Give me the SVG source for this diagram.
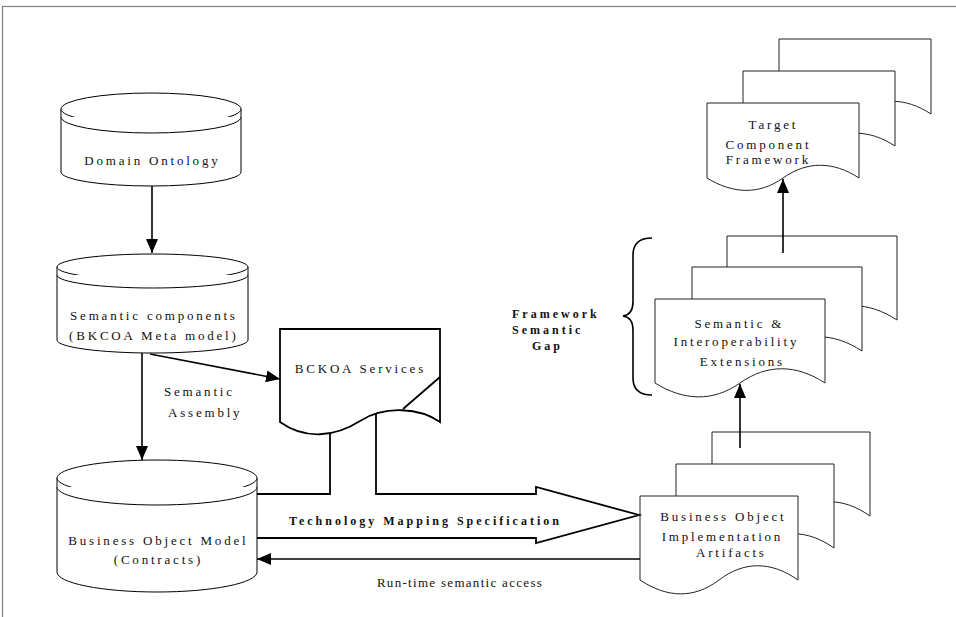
<svg xmlns="http://www.w3.org/2000/svg" width="956" height="617" viewBox="0 0 956 617">
<defs>
<marker id="ah" viewBox="0 0 14 12" refX="14" refY="6" markerWidth="14" markerHeight="12" markerUnits="userSpaceOnUse" orient="auto">
<path d="M0,0 L14,6 L0,12 z" fill="#000"/>
</marker>
</defs>
<style>
.frame{fill:none;stroke:#808080;stroke-width:1.2}
.cyl{fill:#fff;stroke:#000;stroke-width:1}
.doc{fill:#fff;stroke:#222;stroke-width:1}
.thick{fill:none;stroke:#000;stroke-width:1.8}
.bck{fill:#fff;stroke:#000;stroke-width:1.8}
.conn{fill:none;stroke:#000;stroke-width:1.6}
.lbl{font-family:"Liberation Serif","Times New Roman",serif;font-size:13px;letter-spacing:2.8px;fill:#111}
.bold{font-family:"Liberation Serif","Times New Roman",serif;font-size:12px;font-weight:bold;letter-spacing:3px;fill:#111}
.mid{text-anchor:middle}
</style>
<rect class="frame" x="2.5" y="6.5" width="1000" height="700"/>

<g id="domain-ontology">
<path class="cyl" d="M61,109 V172 A90,14 0 0 0 241,172 V109"/>
<ellipse class="cyl" cx="151" cy="109" rx="90" ry="16"/>
<path class="cyl" fill="none" d="M61,117 A90,16 0 0 0 241,117"/>
<text class="lbl mid" x="152.4" y="165">Domain Ontology</text>
</g>

<g id="semantic-components">
<path class="cyl" d="M57,267 V340 A95.5,13 0 0 0 248,340 V267"/>
<ellipse class="cyl" cx="152.5" cy="267" rx="95.5" ry="13"/>
<path class="cyl" fill="none" d="M57,275 A95.5,13 0 0 0 248,275"/>
<text class="lbl mid" x="153.9" y="320">Semantic components</text>
<text class="lbl mid" x="153.9" y="340">(BKCOA Meta model)</text>
</g>

<g id="business-object-model">
<path class="cyl" d="M57,478 V572 A100,20 0 0 0 257,572 V478"/>
<ellipse class="cyl" cx="157" cy="478" rx="100" ry="18"/>
<path class="cyl" fill="none" d="M57,487 A100,18 0 0 0 257,487"/>
<text class="lbl mid" x="158.4" y="545">Business Object Model</text>
<text class="lbl mid" x="158.4" y="564">(Contracts)</text>
</g>

<g id="bckoa-services">
<path class="bck" d="M280,329 H440 V422 C420,408 385,405 360,421 C335,437 305,440 280,422 Z"/>
<path class="thick" d="M440,377 L403,409"/>
<text class="lbl mid" x="360.4" y="373">BCKOA Services</text>
</g>

<g id="target-component-framework">
<path class="doc" d="M779,39 H931 V114 C905,97 879,97 855,114 C831,131 805,130 779,114 Z"/>
<path class="doc" d="M743,71 H895 V146 C869,129 843,129 819,146 C795,163 769,162 743,146 Z"/>
<path class="doc" d="M707,103 H859 V178 C833,161 807,161 783,178 C759,195 733,194 707,178 Z"/>
<text class="lbl mid" x="773.4" y="129">Target</text>
<text class="lbl mid" x="768.4" y="149">Component</text>
<text class="lbl mid" x="768.4" y="164">Framework</text>
</g>

<g id="semantic-interoperability-extensions">
<path class="doc" d="M727,236 H897 V320 C868,301 839,301 812,320 C785,339 756,338 727,320 Z"/>
<path class="doc" d="M692,267 H862 V351 C833,332 804,332 777,351 C750,370 721,369 692,351 Z"/>
<path class="doc" d="M655,299 H825 V383 C796,364 767,364 740,383 C713,402 684,401 655,383 Z"/>
<text class="lbl mid" x="739.4" y="328">Semantic &amp;</text>
<text class="lbl mid" x="736.4" y="346">Interoperability</text>
<text class="lbl mid" x="742.4" y="366">Extensions</text>
</g>

<g id="business-object-implementation-artifacts">
<path class="doc" d="M712,432 H870 V516 C843,497 816,497 791,516 C766,535 739,534 712,516 Z"/>
<path class="doc" d="M676,464 H834 V548 C807,529 780,529 755,548 C730,567 703,566 676,548 Z"/>
<path class="doc" d="M640,496 H798 V580 C771,561 744,561 719,580 C694,599 667,598 640,580 Z"/>
<text class="lbl mid" x="723.4" y="521">Business Object</text>
<text class="lbl mid" x="722.4" y="541">Implementation</text>
<text class="lbl mid" x="731.4" y="557">Artifacts</text>
</g>

<g id="framework-semantic-gap">
<path class="conn" d="M652,238 C640,238 633,243 633,255 V302 C633,310 630,315 623,316 C630,317 633,322 633,330 V378 C633,390 640,395 652,395"/>
<text class="bold" x="512" y="318">Framework</text>
<text class="bold" x="512" y="334">Semantic</text>
<text class="bold" x="532" y="350">Gap</text>
</g>

<g id="connectors">
<line class="conn" x1="152" y1="186" x2="152" y2="253" marker-end="url(#ah)"/>
<line class="conn" x1="142" y1="353" x2="142" y2="460" marker-end="url(#ah)"/>
<line class="conn" x1="150" y1="354" x2="280" y2="379" marker-end="url(#ah)"/>
<path class="thick" d="M257,494 H330 V434"/>
<path class="thick" d="M376,414 V494 H536 V487 L639,515 L536,543 V538 H257"/>
<line class="conn" x1="640" y1="559" x2="257" y2="559" marker-end="url(#ah)"/>
<line class="conn" x1="740" y1="448" x2="740" y2="384" marker-end="url(#ah)"/>
<line class="conn" x1="783" y1="253" x2="783" y2="179" marker-end="url(#ah)"/>
<text class="lbl" x="164" y="396">Semantic</text>
<text class="lbl" x="168" y="417">Assembly</text>
<text class="bold" x="289" y="525">Technology Mapping Specification</text>
<text class="lbl mid" x="460" y="587" style="letter-spacing:1.3px">Run-time semantic access</text>
</g>
</svg>
